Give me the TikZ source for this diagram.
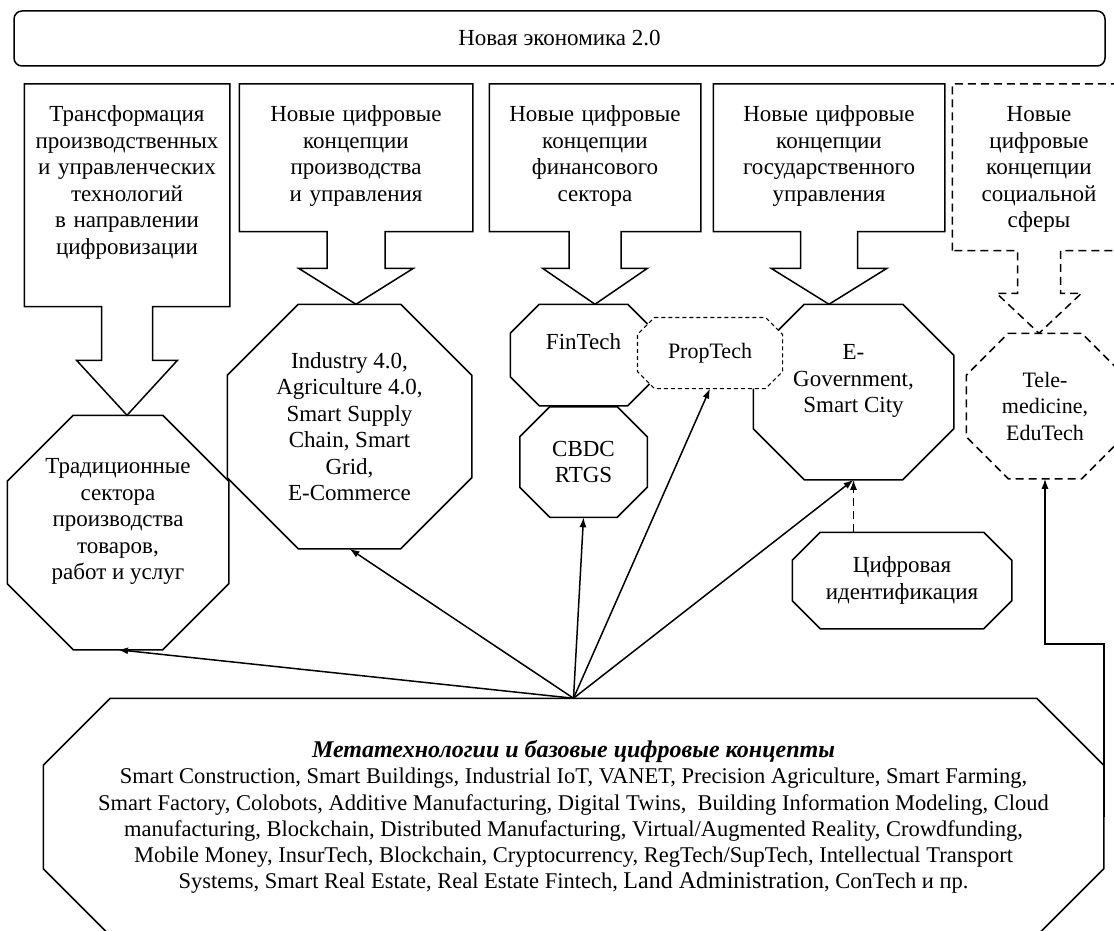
\documentclass[tikz,border=0pt]{standalone}
\usepackage{fontspec}
\setmainfont{Liberation Serif}
\usetikzlibrary{positioning}
\usetikzlibrary{calc,arrows.meta}

\newcommand{\bigtext}{\fontsize{23}{26.5}\selectfont}
\newcommand{\midtext}{\fontsize{22}{26.5}\selectfont}
\newcommand{\metatext}{\fontsize{22.5}{26.3}\selectfont}

% rectangle with cut corners
\makeatletter
\pgfkeys{/pgf/octbox cut/.initial=20pt}
\pgfdeclareshape{octbox}{%
  \inheritsavedanchors[from=rectangle]%
  \inheritanchorborder[from=rectangle]%
  \inheritanchor[from=rectangle]{center}%
  \inheritanchor[from=rectangle]{text}%
  \inheritanchor[from=rectangle]{base}%
  \inheritanchor[from=rectangle]{mid}%
  \inheritanchor[from=rectangle]{north}%
  \inheritanchor[from=rectangle]{south}%
  \inheritanchor[from=rectangle]{east}%
  \inheritanchor[from=rectangle]{west}%
  \inheritanchor[from=rectangle]{north east}%
  \inheritanchor[from=rectangle]{north west}%
  \inheritanchor[from=rectangle]{south east}%
  \inheritanchor[from=rectangle]{south west}%
  \backgroundpath{%
    \pgfmathsetlengthmacro\octcut{\pgfkeysvalueof{/pgf/octbox cut}}%
    \southwest \edef\octxa{\the\pgf@x}\edef\octya{\the\pgf@y}%
    \northeast \edef\octxb{\the\pgf@x}\edef\octyb{\the\pgf@y}%
    \pgfmathsetlengthmacro\octxc{\octxa+\octcut}%
    \pgfmathsetlengthmacro\octxd{\octxb-\octcut}%
    \pgfmathsetlengthmacro\octyc{\octya+\octcut}%
    \pgfmathsetlengthmacro\octyd{\octyb-\octcut}%
    \pgfpathmoveto{\pgfqpoint{\octxc}{\octyb}}%
    \pgfpathlineto{\pgfqpoint{\octxd}{\octyb}}%
    \pgfpathlineto{\pgfqpoint{\octxb}{\octyd}}%
    \pgfpathlineto{\pgfqpoint{\octxb}{\octyc}}%
    \pgfpathlineto{\pgfqpoint{\octxd}{\octya}}%
    \pgfpathlineto{\pgfqpoint{\octxc}{\octya}}%
    \pgfpathlineto{\pgfqpoint{\octxa}{\octyc}}%
    \pgfpathlineto{\pgfqpoint{\octxa}{\octyd}}%
    \pgfpathclose}%
}
\makeatother

% text box with a block arrow under it: box, target, shaft, head, head length
\newcommand{\arrowbox}[6][]{%
  \coordinate (#2tip) at (#2.south |- #3.north);
  \draw[#1] (#2.south west) -- (#2.north west) -- (#2.north east) -- (#2.south east)
    -- ($(#2.south)+(#4,0)$) -- ($(#2tip)+(#4,-#6)$) -- ($(#2tip)+(#5,-#6)$)
    -- (#2tip) -- ($(#2tip)+(-#5,-#6)$) -- ($(#2tip)+(-#4,-#6)$)
    -- ($(#2.south)+(-#4,0)$) -- cycle;}

\begin{document}
\begin{tikzpicture}[x=1pt, y=-1pt, line width=1.5pt,
    topbox/.style={text width=#1, align=center, inner xsep=0pt, inner ysep=20pt,
      text height=17pt, font=\bigtext},
    octa/.style={shape=octbox, octbox cut=#1, draw, fill=white, inner sep=0pt,
      align=center, font=\bigtext},
    link/.style={-{Latex[length=10pt,width=7pt]}},
    longdash/.style={dash pattern=on 8pt off 5pt},
    shortdash/.style={dash pattern=on 4pt off 3pt}]
  \useasboundingbox (0,0) rectangle (1114,931);
  \clip (0,0) rectangle (1114,931);

  \node (ne) [draw, rounded corners=8pt, minimum width=1091pt, minimum height=55pt,
    font=\bigtext] at (559.5,38.5) {Новая экономика 2.0};

  % upper boxes
  \node (b1) [topbox=204pt, text depth=164pt, anchor=north] at (127,84)
    {Трансформация\\ производственных\\ и управленческих\\ технологий\\ в направлении\\ цифровизации};
  \node (b2) [topbox=232pt, text depth=89pt, anchor=north] at (356,84)
    {Новые цифровые\\ концепции\\ производства\\ и управления};
  \node (b3) [topbox=210pt, text depth=89pt, anchor=north] at (595,84)
    {Новые цифровые\\ концепции\\ финансового\\ сектора};
  \node (b4) [topbox=230pt, text depth=89pt, anchor=north] at (829,84)
    {Новые цифровые\\ концепции\\ государственного\\ управления};
  \node (b5) [topbox=172pt, text depth=108pt, anchor=north] at (1039,84)
    {Новые\\ цифровые\\ концепции\\ социальной\\ сферы};

  % octagons
  \node (trad) [octa=66pt, minimum width=220pt, minimum height=233pt] at (118,532.5)
    {Традиционные\\ сектора\\ производства\\ товаров,\\ работ и услуг\\ \mbox{}};
  \node (ind) [octa=71pt, minimum width=243pt, minimum height=243pt] at (349.5,426.5)
    {Industry 4.0,\\ Agriculture 4.0,\\ Smart Supply\\ Chain, Smart\\ Grid,\\ E-Commerce};
  \node (fin) [octa=29pt, minimum width=145pt, minimum height=100pt] at (583.5,355)
    {FinTech\\ \mbox{}};
  \node (cbdc) [octa=30pt, minimum width=126pt, minimum height=109pt, below=1pt of fin]
    {CBDC\\ RTGS};
  \node (egov) [octa=51pt, minimum width=199pt, minimum height=174pt] at (853.5,392)
    {E-\\ Government,\\ Smart City\\ \mbox{}};
  \node (prop) [octa=17pt, minimum width=144pt, minimum height=70pt, shortdash,
    line width=1.1pt, font=\midtext] at (710,353) {PropTech};
  \node (tele) [octa=42pt, minimum width=156pt, minimum height=144pt, longdash,
    font=\midtext] at (1045,406) {Tele-\\ medicine,\\ EduTech};
  \node (cid) [octa=28pt, minimum width=218pt, minimum height=95pt]
    at (902,580.5) {Цифровая\\ идентификация};
  \node (meta) [octa=67pt, minimum width=1059pt, minimum height=236pt, font=\metatext]
    at (573.5,817)
    {{\fontsize{24}{26.3}\selectfont\bfseries\itshape Метатехнологии и базовые цифровые концепты}\\
     Smart Construction, Smart Buildings, Industrial IoT, VANET, Precision Agriculture, Smart Farming,\\
     Smart Factory, Colobots, Additive Manufacturing, Digital Twins,\ \ Building Information Modeling, Cloud\\
     manufacturing, Blockchain, Distributed Manufacturing, Virtual/Augmented Reality, Crowdfunding,\\
     Mobile Money, InsurTech, Blockchain, Cryptocurrency, RegTech/SupTech, Intellectual Transport\\
     Systems, Smart Real Estate, Real Estate Fintech, {\fontsize{24}{26.3}\selectfont Land Administration}, ConTech и пр.};

  % block arrows
  \arrowbox{b1}{trad}{25.5}{50.5}{55}
  \arrowbox{b2}{ind}{29}{57.5}{36}
  \arrowbox{b3}{fin}{26}{52.5}{36}
  \arrowbox{b4}{egov}{28.5}{58}{36}
  \arrowbox[longdash]{b5}{tele}{21.5}{42.5}{40}

  % connectors
  \foreach \t in {trad,ind,cbdc,prop,egov}
    \draw[link] (meta.north) -- (\t.south);
  \draw[link, longdash] (egov.south |- cid.north) -- (egov.south);
  \draw[link] (meta.east) |- (tele.south |- 0,644) -- (tele.south);
\end{tikzpicture}
\end{document}
